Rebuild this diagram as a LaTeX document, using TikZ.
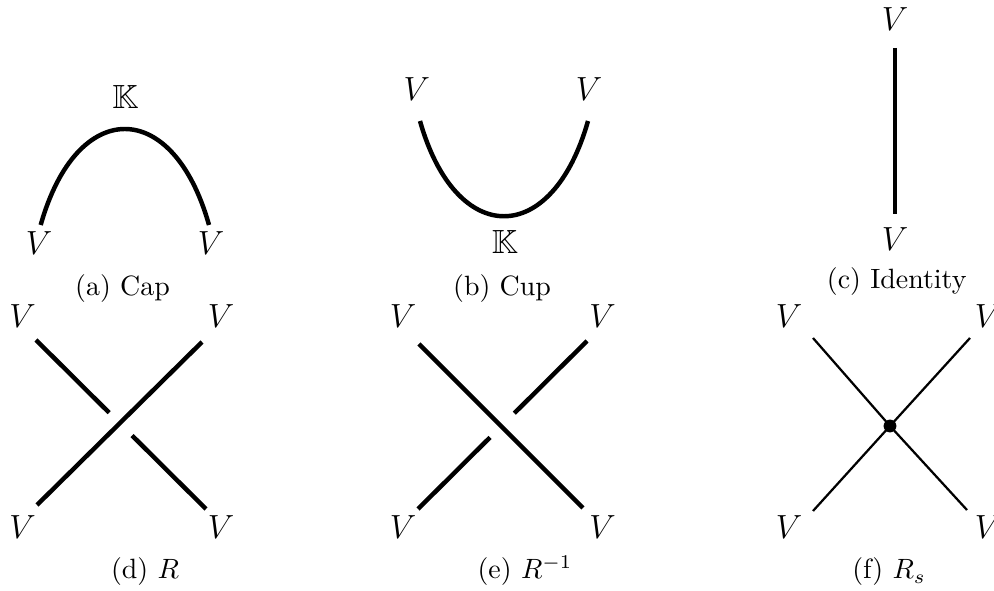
\documentclass[tikz,border=0pt]{standalone}
\usepackage{amssymb}
\usetikzlibrary{calc}
\begin{document}
\begin{tikzpicture}[x=0.3584pt,y=-0.3584pt,
  strand/.style={line width=1.6pt},
  thinstrand/.style={line width=0.8pt},
  lab/.style={inner sep=0pt, font=\large},
  capt/.style={anchor=base, inner sep=0pt}]
\useasboundingbox (0,0) rectangle (994,591);

% (a) Cap
\coordinate (a1) at (40.7,225);
\coordinate (a2) at (209,225);
\draw[strand] (a1) .. controls +(36,-128) and +(-36,-128) .. (a2);
\node[lab] (aK) at (125.5,97) {$\mathbb{K}$};
\node[lab] (aV1) at (39,243) {$V$};
\node[lab] (aV2) at (211,243) {$V$};
\node[capt] (acap) at (122.5,296) {(a) Cap};

% (b) Cup
\coordinate (b1) at (420,121);
\coordinate (b2) at (588,121);
\draw[strand] (b1) .. controls +(36,127) and +(-36,127) .. (b2);
\node[lab] (bV1) at (416.7,89) {$V$};
\node[lab] (bV2) at (589,89) {$V$};
\node[lab] (bK) at (505,242) {$\mathbb{K}$};
\node[capt] (bcap) at (502,296) {(b) Cup};

% (c) Identity
\coordinate (c1) at (895,48);
\coordinate (c2) at (895,214);
\draw[strand] (c1) -- (c2);
\node[lab] (cV1) at (895,19) {$V$};
\node[lab] (cV2) at (895,239) {$V$};
\node[capt] (ccap) at (896.7,289) {(c) Identity};

% (d) R
\coordinate (dTL) at (36,340);
\coordinate (dTR) at (202,342);
\coordinate (dBL) at (37,505);
\coordinate (dBR) at (206,509);
\draw[strand] (dBL) -- (dTR);
\draw[strand] (dTL) -- ($(dTL)!0.43!(dBR)$);
\draw[strand] ($(dTL)!0.565!(dBR)$) -- (dBR);
\node[lab] (dV1) at (22.5,316) {$V$};
\node[lab] (dV2) at (221,316) {$V$};
\node[lab] (dV3) at (22.5,527.5) {$V$};
\node[lab] (dV4) at (221,527.5) {$V$};
\node[capt] (dcap) at (145,579) {(d) $R$};

% (e) R^{-1}
\coordinate (eTL) at (419,344);
\coordinate (eTR) at (587,341);
\coordinate (eBL) at (418,509);
\coordinate (eBR) at (583,508);
\draw[strand] (eTL) -- (eBR);
\draw[strand] (eTR) -- ($(eTR)!0.43!(eBL)$);
\draw[strand] ($(eTR)!0.574!(eBL)$) -- (eBL);
\node[lab] (eV1) at (403,316) {$V$};
\node[lab] (eV2) at (602.5,316) {$V$};
\node[lab] (eV3) at (403,527.5) {$V$};
\node[lab] (eV4) at (602.5,527.5) {$V$};
\node[capt] (ecap) at (525,579) {(e) $R^{-1}$};

% (f) R_s
\coordinate (fTL) at (813,338);
\coordinate (fTR) at (970,338);
\coordinate (fBL) at (813,511);
\coordinate (fBR) at (967,510);
\coordinate (fC) at (890,426);
\draw[thinstrand] (fTL) -- (fC) -- (fBR);
\draw[thinstrand] (fBL) -- (fC) -- (fTR);
\fill (fC) circle (2.3pt);
\node[lab] (fV1) at (789,316) {$V$};
\node[lab] (fV2) at (988,316) {$V$};
\node[lab] (fV3) at (789,527.5) {$V$};
\node[lab] (fV4) at (988,527.5) {$V$};
\node[capt] (fcap) at (889,579) {(f) $R_s$};
\end{tikzpicture}
\end{document}
